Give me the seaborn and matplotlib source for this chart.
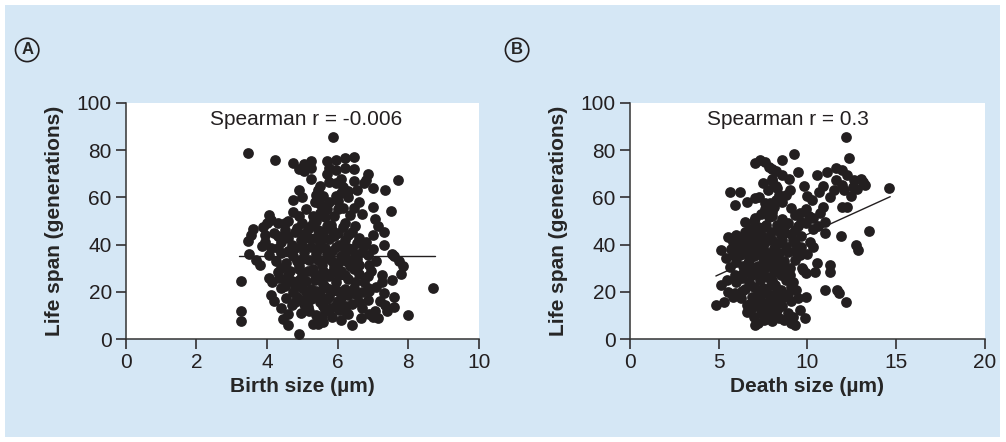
import matplotlib
matplotlib.use('Agg')
import matplotlib.pyplot as plt
import matplotlib.patches as mpatches
import seaborn as sns
import pandas as pd

sns.set_style('ticks')
plt.rcParams['font.family'] = ['Liberation Sans', 'DejaVu Sans']

# Panel A: birth size (um) vs life span (generations)
birth_x = [5.88, 3.45, 4.22, 4.75, 4.9, 5.05, 5.25, 5.25, 5.05, 5.7, 5.75, 5.95, 6.2, 6.45, 5.7, 5.95, 6.2, 6.45,
           5.75, 5.95, 6.15, 6.3, 6.55, 6.75, 6.85, 6.8, 7.0, 7.35, 7.7, 5.25, 6.45, 6.1, 4.9, 5.45, 5.6, 5.75, 4.75, 5.5, 6.3, 6.6,
           7.52, 4.05, 4.1, 4.3, 4.5, 4.6, 4.9, 5.1, 5.3, 5.5, 5.7, 5.9, 6.0, 6.35, 6.7, 7.05, 7.15, 7.3, 5.4, 5.0, 6.2, 6.5, 5.8,
           3.6, 3.55, 3.45, 3.95, 3.95, 3.85, 4.1, 4.2, 4.5, 4.6, 4.8, 4.95, 5.15, 5.35, 5.6, 5.75, 6.0, 6.2, 6.4, 6.6, 6.8, 7.0, 4.4, 5.5, 6.05, 7.3, 4.7,
           3.5, 3.7, 3.8, 4.05, 4.25, 4.4, 4.55, 4.75, 4.9, 5.05, 5.2, 5.4, 5.55, 5.7, 5.85, 6.0, 6.2, 6.35, 6.55, 6.7, 6.9, 7.1, 7.55, 7.75, 7.85, 7.6, 6.4, 4.3, 5.25, 6.85,
           4.05, 4.15, 4.3, 4.5, 4.65, 4.8, 5.0, 5.1, 5.3, 5.5, 5.65, 5.8, 5.95, 6.1, 6.3, 6.45, 6.6, 6.75, 6.95, 7.1, 7.55, 7.8, 4.4, 5.85, 5.25, 6.9, 4.9, 6.2,
           4.1, 4.2, 4.4, 4.55, 4.7, 4.85, 5.05, 5.2, 5.3, 5.5, 5.65, 5.75, 5.95, 6.1, 6.2, 6.4, 6.55, 6.7, 6.85, 7.05, 7.2, 7.35, 7.6, 7.4, 7.6, 5.4, 4.95, 6.9, 7.15, 8.0, 6.3,
           4.9, 4.6, 4.45, 5.3, 5.45, 5.6, 6.4, 6.1, 5.85, 6.65, 7.0,
           4.6, 4.8, 5.0, 5.15, 5.35, 5.45, 5.6, 5.75, 5.9, 6.05, 6.25, 6.45, 6.6, 6.5, 6.3, 6.0, 5.7, 5.4, 5.1, 4.75, 4.5, 4.35,
           5.2, 5.45, 5.7, 5.9, 6.15, 4.85, 5.65, 5.95, 6.2, 6.75, 7.0, 4.9, 5.6, 6.85, 7.25, 7.3, 6.6, 5.8, 5.05, 4.6, 5.55, 6.85, 7.25,
           5.35, 5.0, 6.0, 6.15, 5.65, 4.75, 6.45, 7.0, 3.9, 4.0,
           4.4, 4.6, 4.85, 5.0, 5.2, 5.45, 5.7, 5.85, 6.1, 6.3, 6.5, 4.7, 5.0, 5.25, 5.5, 5.75, 6.0, 6.25, 6.45, 6.7,
           4.8, 5.15, 5.6, 6.05, 5.35, 5.55, 6.2, 6.4, 4.55, 5.05, 5.3, 5.55, 5.85, 6.3, 4.3, 6.55, 5.95, 6.1, 5.5, 5.4,
           3.25, 3.25, 3.25, 8.7]
birth_y = [85.7, 78.7, 75.8, 74.5, 72, 74, 75.5, 72.5, 71, 75.5, 72.5, 76, 76.5, 77, 70, 71.5, 72.5, 72,
           66.5, 66, 64.5, 62.5, 63, 66, 70, 67.5, 64, 63, 67.5, 68, 67, 68, 63, 63, 60.5, 58, 59, 57, 60, 58,
           54.4, 52.5, 50.5, 49, 49, 50, 52, 55, 52, 53.5, 55, 52, 55, 52.5, 53, 51, 48, 45.5, 50, 49, 49, 48, 48.5,
           46.5, 44, 41.5, 44, 41, 39.5, 38.5, 45, 46, 43, 45.5, 42, 46.5, 43, 45.5, 42.5, 45, 42, 45.5, 43, 41, 44, 41, 40.5, 40, 40, 40,
           36, 33.5, 31.5, 35.5, 33, 36.5, 32, 35, 31, 37, 33.5, 36, 31.5, 34.5, 37.5, 32, 35.5, 31, 34, 37, 31.5, 33, 36, 33, 31, 35, 38, 38.5, 39, 35.5,
           26, 24, 28.5, 25.5, 29, 22.5, 27, 24.5, 29.5, 26, 22, 28, 24, 29, 25.5, 21.5, 27.5, 24, 29, 22, 25, 27.5, 21.5, 20.5, 21, 20.5, 29.5, 21,
           18.5, 16, 13, 17.5, 14.5, 18, 15, 12, 18.5, 15.5, 12, 18, 14.5, 17.5, 12, 15, 18.5, 13, 16.5, 12, 16, 14.5, 18, 12, 13.5, 10, 11, 10.5, 9, 10, 10.5,
           2, 6, 8.5, 6.5, 6.5, 7, 6, 8, 9.5, 9, 9.5,
           37.5, 38.5, 34, 29, 25, 33.5, 29, 26.5, 30.5, 27, 33, 29.5, 31.5, 24, 18.5, 20.5, 17, 20.5, 20, 20, 22.5, 26,
           47.5, 46, 48, 43.5, 47.5, 47, 38.5, 39, 37.5, 39.5, 38, 25, 23.5, 26.5, 27, 19.5, 15.5, 13, 16.5, 10.5, 9.5, 21.5, 24,
           58, 60, 58.5, 55.5, 51.5, 54, 55.5, 56, 47.5, 49,
           30, 27, 33, 40, 43, 38, 36, 33, 35, 38.5, 36, 24.5, 21.5, 17, 19, 21, 16, 14, 19.5, 20,
           15.5, 13.5, 14, 12.5, 27, 27.5, 27, 33, 44, 44.5, 49, 43, 46, 44, 43.5, 40.5, 60.5, 62, 65, 61,
           24.5, 12, 7.5, 21.5]

# Panel B: death size (um) vs life span (generations)
death_x = [12.17, 12.36, 9.24, 8.6, 7.06, 7.35, 7.64, 7.83, 8.0,
           9.47, 8.22, 8.6, 8.99, 8.03, 8.22, 10.53,
           11.1, 11.59, 11.97, 12.26, 11.59, 11.97, 12.65, 13.13, 13.23, 12.55, 12.07, 12.46, 14.58,
           5.62, 6.2, 5.9, 7.06, 7.64,
           8.31, 8.41, 8.22, 8.12, 8.03, 7.83,
           9.08, 9.28, 9.66, 9.95, 10.34, 10.72, 10.91, 10.24, 10.63,
           11.97, 12.26, 11.01, 11.01, 11.88, 12.75, 12.84, 13.48,
           6.48, 7.06, 7.54, 7.93, 8.31, 8.7, 9.28, 9.66,
           5.52, 6.0, 6.48, 6.77, 7.16, 6.87, 6.39, 5.9, 5.13, 5.42, 5.62,
           7.35, 7.54, 7.93, 8.31, 8.8, 9.28, 9.66, 9.57, 9.28, 9.0, 8.7, 8.51,
           10.14, 10.34, 9.76, 9.95, 10.43, 10.53, 11.3, 11.3,
           5.13, 5.52, 5.9, 6.29, 6.0, 6.39, 6.68, 7.16, 7.35, 7.74, 8.12, 7.93, 7.64,
           4.85, 5.33, 6.58, 6.87, 7.35, 7.74, 8.12, 8.51, 8.7, 9.08, 9.37, 9.47, 9.95,
           11.01, 11.68, 11.78, 12.17,
           6.58, 6.97, 7.25, 7.06, 7.54, 7.93, 8.31, 8.7, 9.08, 9.28, 9.57, 9.86,
           5.8, 6.1, 6.3, 6.6, 6.9, 7.1, 7.4, 7.6, 7.3, 7.0, 6.7, 6.4, 6.0, 5.8, 6.2, 7.6, 7.8, 8.1, 8.4, 8.6,
           8.9, 8.0, 8.3, 8.6, 8.9, 9.1, 7.2, 7.0, 7.4, 7.6, 7.9, 8.6, 8.8, 9.0, 9.6, 9.9, 10.1, 8.3, 8.0, 8.2,
           8.8, 9.0, 9.2, 7.2, 6.9, 6.7, 6.5, 7.0, 7.2, 7.6, 7.8, 8.4, 8.6, 8.9, 9.2, 7.4, 6.9, 6.3, 5.9, 9.7,
           9.3, 10.0, 10.3, 10.6, 6.6, 7.3, 7.5, 7.8, 8.0, 9.8, 10.0, 11.3, 11.5, 12.8, 13.0, 10.9,
           6.2, 6.5, 6.8, 7.1, 7.5, 7.7, 7.1, 6.8, 6.5, 5.7, 6.6, 6.9, 7.3, 7.5, 7.8, 8.1, 8.5, 8.4, 8.7, 7.0,
           7.3, 7.5, 7.9, 8.2, 8.4, 8.9, 9.1, 7.6, 8.0, 8.1, 6.8, 6.3, 5.8, 5.5, 8.5, 8.7, 8.0, 7.7, 9.5, 9.2]
death_y = [85.7, 76.6, 78.4, 75.8, 74.5, 76, 75, 73, 72,
           70.9, 71, 69.5, 68, 67, 65, 69.5,
           70.9, 72.3, 71.6, 69.5, 67.4, 65.3, 67.4, 66.7, 65.3, 64.5, 63.1, 60.6, 63.8,
           62.4, 62.4, 56.8, 59.6, 57.5,
           63.8, 61, 58.9, 56.1, 54, 51.8,
           55.4, 52.5, 49.7, 49, 51.1, 53.2, 56.1, 58.9, 62.4,
           56.1, 56.1, 49.7, 44.8, 43.8, 39.8, 37.7, 45.9,
           49.7, 51.1, 47.6, 45.5, 46.2, 44.8, 46.2, 43.8,
           43.4, 44.1, 45.5, 42.7, 39.8, 37.7, 36.3, 39.1, 37.7, 34.2, 30.6,
           36.3, 32.1, 33.5, 35.6, 39.1, 40.5, 39.1, 35.6, 33.5, 29.9, 27.8, 30.6,
           41.2, 39.1, 29.2, 27.8, 28.5, 32.1, 31.4, 28.5,
           22.9, 20.1, 19.4, 17.2, 24.3, 27.8, 32.1, 28.5, 25, 26.4, 28.5, 22.9, 20.8,
           14.4, 15.8, 14.4, 17.9, 17.2, 19.4, 15.1, 20.8, 17.9, 22.2, 20.8, 17.2, 17.9,
           20.8, 20.8, 19.4, 15.8,
           11.6, 9.5, 6.6, 5.9, 8.1, 10.9, 12.3, 8.1, 6.6, 5.9, 12.3, 8.8,
           41, 40, 42.5, 40.5, 43, 42, 44, 41, 38.5, 35, 33.5, 31, 32.5, 35.5, 35.8, 30, 36.5, 38.5, 40.5, 42,
           37, 42, 48.5, 51, 49, 44.5, 47.5, 50, 53, 55, 57.5, 58, 61, 63, 53.5, 55, 52, 32, 25, 23,
           25, 27, 24, 31, 27, 24, 21, 22, 19.5, 15, 12.5, 9, 14, 11, 9.5, 11, 13, 26, 27, 30,
           37.5, 36, 46.5, 48, 58, 60, 66, 63, 68, 65, 60.5, 60, 63, 63.5, 68, 65,
           38, 37, 39, 37.5, 39, 43, 45, 46.5, 42, 38, 28.5, 30.5, 28, 34.5, 31.5, 30, 27, 36.5, 33, 17.5,
           14, 21.5, 17, 19, 16.5, 19, 16, 8.5, 7.5, 13, 15, 20.5, 18, 25, 44, 47.5, 52, 48.5, 48, 42]

# Fitted lines (ends)
fit_a_x = [3.2, 8.77]
fit_a_y = [35.3, 35.3]
fit_b_x = [4.85, 14.67]
fit_b_y = [26.7, 60.3]

df_a = pd.DataFrame({'x': birth_x, 'y': birth_y})
df_b = pd.DataFrame({'x': death_x, 'y': death_y})

fig = plt.figure(figsize=(10.06, 4.42), dpi=100)
fig.patch.set_facecolor('white')
# light blue box behind everything
fig.patches.append(mpatches.Rectangle((5 / 1006, 5 / 442), 995 / 1006, 432 / 442,
                                      transform=fig.transFigure, facecolor='#d5e7f5',
                                      edgecolor='none', zorder=-10))

ax_a = fig.add_axes([0.125, 0.233, 0.351, 0.534])
ax_b = fig.add_axes([0.626, 0.233, 0.353, 0.534])

dot = '#231f20'
panels = [(ax_a, df_a, fit_a_x, fit_a_y, 'Birth size (µm)', [0, 2, 4, 6, 8, 10], 'Spearman r = -0.006', 0.51, 'A', 0.027),
          (ax_b, df_b, fit_b_x, fit_b_y, 'Death size (µm)', [0, 5, 10, 15, 20], 'Spearman r = 0.3', 0.445, 'B', 0.514)]

for ax, df, fx, fy, xlabel, xticks, rtext, rx, letter, lx in panels:
    ax.set_facecolor('white')
    # line goes under the dots
    sns.lineplot(x=fx, y=fy, ax=ax, color=dot, linewidth=1.0, zorder=2)
    sns.scatterplot(data=df, x='x', y='y', ax=ax, color=dot, s=60, edgecolor=dot,
                    linewidth=0, legend=False, zorder=3)
    ax.set_xlim(xticks[0], xticks[-1])
    ax.set_ylim(0, 100)
    ax.set_xticks(xticks)
    ax.set_yticks([0, 20, 40, 60, 80, 100])
    ax.tick_params(labelsize=15, length=7, width=1.1, colors='#231f20', pad=3)
    for side in ['top', 'right']:
        ax.spines[side].set_visible(False)
    for side in ['left', 'bottom']:
        ax.spines[side].set_linewidth(1.1)
        ax.spines[side].set_color('#333333')
    ax.set_xlabel(xlabel, fontsize=15, fontweight='bold', labelpad=4)
    ax.set_ylabel('Life span (generations)', fontsize=15, fontweight='bold', labelpad=9)
    ax.text(rx, 0.93, rtext, transform=ax.transAxes, ha='center', va='center', fontsize=15, color='#231f20')
    # circled panel letter
    fig.text(lx, 0.887, letter, ha='center', va='center', fontsize=12, fontweight='bold',
             bbox=dict(boxstyle='circle,pad=0.25', facecolor='none', edgecolor='#231f20', linewidth=1.2))

fig.savefig('out.png', dpi=100)
